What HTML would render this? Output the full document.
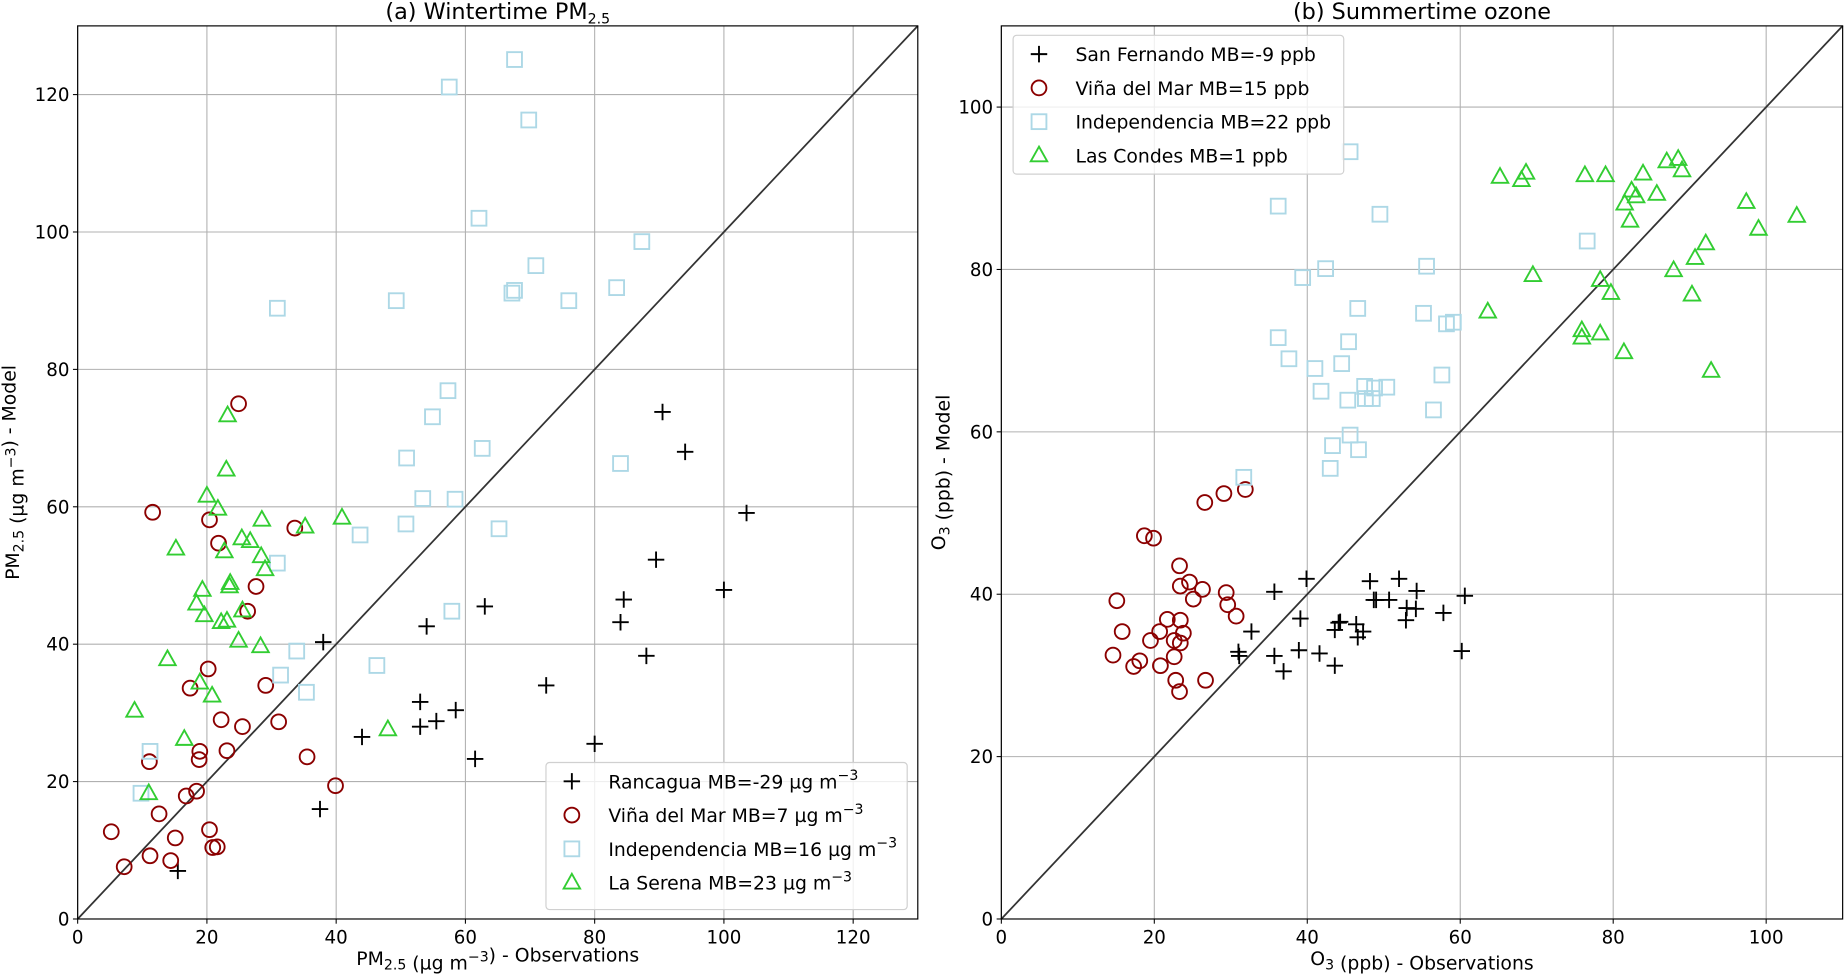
<!DOCTYPE html>
<html><head><meta charset="utf-8"><style>
html,body{margin:0;padding:0;background:#fff;}
svg{display:block;font-family:"DejaVu Sans","Liberation Sans",sans-serif;}
</style></head><body>
<svg id="chart" width="1845" height="977" viewBox="0 0 1568 830.3" preserveAspectRatio="none" xmlns="http://www.w3.org/2000/svg"></svg>
<script>
// ---------- Panel (a) data: wintertime PM2.5 ----------
const rancaguaObs = [15.5,37.5,38,44,53,53,54,55.5,58.5,61.5,63,72.5,80,84,84.5,88,89.5,90.5,94,100,103.5];
const rancaguaMod = [7,16,40.3,26.5,28,31.6,42.6,28.8,30.4,23.3,45.5,34,25.5,43.2,46.5,38.3,52.3,73.8,68,47.9,59.1];
const vinaAObs = [5.2,7.2,11.2,11.1,11.6,12.6,14.4,15.1,16.8,17.4,18.4,18.9,18.8,20.2,20.4,20.4,20.9,21.6,21.8,22.2,23.1,24.9,25.5,26.3,27.6,29.1,31.1,33.6,35.5,39.9];
const vinaAMod = [12.7,7.6,9.2,22.9,59.2,15.3,8.5,11.8,17.9,33.6,18.6,24.4,23.2,36.4,58.1,13.0,10.4,10.5,54.7,29.0,24.5,75.0,28.0,44.8,48.4,34.0,28.7,56.9,23.6,19.4];
const indepAObs = [9.8,11.2,30.9,30.9,31.4,33.9,35.4,43.7,46.3,49.3,50.9,50.8,53.4,54.9,57.3,57.5,57.9,58.4,62.1,62.6,65.2,67.2,67.6,67.6,69.8,70.9,76.0,83.4,84.0,87.3];
const indepAMod = [18.3,24.4,88.9,51.8,35.5,39.0,33.0,55.9,36.9,90.0,67.1,57.5,61.2,73.1,76.9,121.1,44.8,61.1,102.0,68.5,56.8,91.1,91.5,125.1,116.3,95.1,90.0,91.9,66.3,98.6];
const serenaObs = [8.8,11.0,13.9,15.2,16.5,18.4,18.9,19.3,19.6,20.0,20.8,21.7,22.2,22.7,23.1,23.0,23.2,23.5,23.6,24.9,25.4,25.5,26.7,28.3,28.4,28.5,29.0,35.2,40.9,48.0];
const serenaMod = [30.3,18.3,37.8,53.9,26.2,45.9,34.4,47.9,44.2,61.6,32.5,59.7,43.2,53.5,43.4,65.4,73.3,48.4,48.9,40.5,55.4,44.9,55.0,39.7,52.8,58.1,50.9,57.1,58.4,27.6];
const ticksA = [0,20,40,60,80,100,120];

// ---------- Panel (b) data: summertime ozone ----------
const sanferObs = [31.0,31.1,32.7,35.7,35.7,36.9,38.9,39.1,39.9,41.6,43.6,43.6,44.1,44.3,46.4,46.6,47.3,48.2,48.7,49.0,50.7,52.0,52.9,53.0,54.2,54.3,57.8,60.2,60.6];
const sanferMod = [32.9,32.4,35.4,40.3,32.4,30.5,33.1,37.0,41.9,32.7,35.6,31.2,36.5,36.6,36.3,34.7,35.4,41.6,39.3,39.3,39.3,41.9,36.8,38.3,38.2,40.4,37.7,33.0,39.8];
const vinaBObs = [14.6,15.1,15.8,17.3,18.1,18.7,19.5,19.9,20.7,20.8,21.7,22.6,22.6,22.8,23.3,23.3,23.4,23.4,23.4,23.8,24.6,25.1,26.3,26.6,26.7,29.1,29.4,29.6,30.7,31.9];
const vinaBMod = [32.5,39.2,35.4,31.1,31.8,47.2,34.3,46.9,35.4,31.2,36.9,34.3,32.3,29.4,28.0,43.5,36.8,41.0,34.0,35.2,41.5,39.4,40.6,51.3,29.4,52.4,40.2,38.7,37.3,52.9];
const indepBObs = [31.7,36.2,36.2,37.6,39.4,41.0,41.8,42.4,43.0,43.3,44.5,45.3,45.4,45.6,45.6,46.6,46.7,47.5,47.6,48.5,48.8,49.5,50.4,55.2,55.6,56.5,57.6,58.2,59.1,76.6];
const indepBMod = [54.4,87.8,71.6,69.0,79.0,67.8,65.0,80.1,55.5,58.3,68.4,63.9,71.1,94.5,59.6,75.2,57.8,65.6,64.1,64.1,65.4,86.8,65.5,74.6,80.4,62.7,67.0,73.3,73.5,83.5];
const condesObs = [63.6,65.2,68.0,68.6,69.5,75.9,75.9,76.3,78.3,78.3,79.0,79.7,81.4,81.5,82.2,82.4,83.0,83.9,85.7,87.0,87.9,88.5,89.0,90.7,90.3,92.1,92.8,97.4,99.0,104.0];
const condesMod = [74.8,91.4,91.0,91.9,79.3,72.5,71.6,91.6,72.1,78.7,91.6,77.1,69.8,88.1,86.0,89.7,89.0,91.8,89.3,93.3,79.9,93.6,92.2,81.4,76.9,83.2,67.5,88.3,85.0,86.6];
const ticksB = [0,20,40,60,80,100];

const NS = "http://www.w3.org/2000/svg";
const svg = document.getElementById('chart');
function mk(tag, attrs, parent){
  const e = document.createElementNS(NS, tag);
  for (const k in attrs) e.setAttribute(k, attrs[k]);
  (parent||svg).appendChild(e);
  return e;
}
function scale(d0,d1,r0,r1){ return v => r0 + (v-d0)/(d1-d0)*(r1-r0); }

function marker(g, type, cx, cy, color){
  let e;
  if (type==='plus'){
    e = mk('path',{d:`M${cx-7},${cy}H${cx+7}M${cx},${cy-7}V${cy+7}`,stroke:color,'stroke-width':1.6,fill:'none'},g);
  } else if (type==='circle'){
    e = mk('circle',{cx:cx,cy:cy,r:6.3,stroke:color,'stroke-width':1.6,fill:'none'},g);
  } else if (type==='square'){
    e = mk('rect',{x:cx-6.3,y:cy-6.3,width:12.6,height:12.6,stroke:color,'stroke-width':1.6,fill:'none'},g);
  } else {
    e = mk('path',{d:`M${cx},${cy-7.5}L${cx+7},${cy+5}L${cx-7},${cy+5}Z`,stroke:color,'stroke-width':1.6,fill:'none'},g);
  }
  return e;
}

function panel(cfg){
  const g = mk('g',{});
  
  
  const sx = scale(0,cfg.max,cfg.x0,cfg.x1);
  const sy = scale(0,cfg.max,cfg.y0,cfg.y1);
  cfg.ticks.forEach(t=>{
    const gx = mk('line',{x1:sx(t),x2:sx(t),y1:cfg.y0,y2:cfg.y1,stroke:'#b0b0b0','stroke-width':0.9},g);
    
    
    const gy = mk('line',{x1:cfg.x0,x2:cfg.x1,y1:sy(t),y2:sy(t),stroke:'#b0b0b0','stroke-width':0.9},g);
    
    
    const tx = mk('text',{x:sx(t),y:cfg.y0+21,'text-anchor':'middle','font-size':15.5,fill:'#000'},g);
    tx.textContent = t;
    
    
    mk('line',{x1:sx(t),x2:sx(t),y1:cfg.y0,y2:cfg.y0+4,stroke:'#000','stroke-width':0.9},g);
    const ty = mk('text',{x:cfg.x0-7,y:sy(t)+5.5,'text-anchor':'end','font-size':15.5,fill:'#000'},g);
    ty.textContent = t;
    
    
    mk('line',{x1:cfg.x0-4,x2:cfg.x0,y1:sy(t),y2:sy(t),stroke:'#000','stroke-width':0.9},g);
  });
  const diag = mk('line',{x1:sx(0),y1:sy(0),x2:sx(cfg.max),y2:sy(cfg.max),stroke:'#333','stroke-width':1.5},g);
  
  
  cfg.series.forEach(s=>{
    const sg = mk('g',{},g);
    
    
    s.xs.forEach((v,i)=>{
      const m = marker(sg, s.type, sx(v), sy(s.ys[i]), s.color);
      
      
    });
  });
  const fr = mk('rect',{x:cfg.x0,y:cfg.y1,width:cfg.x1-cfg.x0,height:cfg.y0-cfg.y1,fill:'none',stroke:'#000','stroke-width':1},g);
  
  
  const L = cfg.legend;
  const lg = mk('g',{},g);
  
  
  mk('rect',{x:L.x,y:L.y,width:L.w,height:L.h,rx:3,fill:'#fff','fill-opacity':0.8,stroke:'#d0d0d0','stroke-width':1},lg);
  cfg.series.forEach((s,i)=>{
    const cy = L.y+16+i*28.7;
    const le = mk('g',{},lg);
    
    
    marker(le, s.type, L.x+22, cy, s.color);
    const t = mk('text',{x:L.x+53,y:cy+6,'font-size':16,fill:'#000'},le);
    t.innerHTML = s.label;
  });
  const tt = mk('text',{x:(cfg.x0+cfg.x1)/2,y:16,'text-anchor':'middle','font-size':19,fill:'#000'},g);
  tt.innerHTML = cfg.title;
  
  
  const xl = mk('text',{x:(cfg.x0+cfg.x1)/2,y:820,'text-anchor':'middle','font-size':16,fill:'#000'},g);
  xl.innerHTML = cfg.xlabel;
  
  
  const ylx = cfg.ylabX, yly = (cfg.y0+cfg.y1)/2;
  const yl = mk('text',{x:ylx,y:yly,'text-anchor':'middle','font-size':16,fill:'#000',transform:`rotate(-90 ${ylx} ${yly})`},g);
  yl.innerHTML = cfg.ylabel;
  
  
}

const sub = s => `<tspan font-size="12" dy="4">${s}</tspan><tspan dy="-4"></tspan>`;
const sup = s => `<tspan font-size="12" dy="-7">${s}</tspan><tspan dy="7"></tspan>`;
const ugm = `µg m${sup('−3')}`;

panel({
  name:'panel-a-wintertime-pm25', x0:66, x1:780, y0:781, y1:22, max:130, ticks:ticksA,
  title:`(a) Wintertime PM${sub('2.5')}`,
  xlabel:`PM${sub('2.5')} (${ugm}) - Observations`,
  ylabel:`PM${sub('2.5')} (${ugm}) - Model`, ylabX:16,
  legend:{x:464,y:648,w:307,h:125},
  series:[
    {id:'rancagua',type:'plus',color:'#000',xs:rancaguaObs,ys:rancaguaMod,label:`Rancagua MB=-29 ${ugm}`},
    {id:'vina-del-mar-a',type:'circle',color:'#8b0000',xs:vinaAObs,ys:vinaAMod,label:`Viña del Mar MB=7 ${ugm}`},
    {id:'independencia-a',type:'square',color:'#add8e6',xs:indepAObs,ys:indepAMod,label:`Independencia MB=16 ${ugm}`},
    {id:'la-serena',type:'tri',color:'#32cd32',xs:serenaObs,ys:serenaMod,label:`La Serena MB=23 ${ugm}`}
  ]
});
panel({
  name:'panel-b-summertime-ozone', x0:851, x1:1566, y0:781, y1:22, max:110, ticks:ticksB,
  title:`(b) Summertime ozone`,
  xlabel:`O${sub('3')} (ppb) - Observations`,
  ylabel:`O${sub('3')} (ppb) - Model`, ylabX:803,
  legend:{x:861,y:30,w:281,h:118},
  series:[
    {id:'san-fernando',type:'plus',color:'#000',xs:sanferObs,ys:sanferMod,label:`San Fernando MB=-9 ppb`},
    {id:'vina-del-mar-b',type:'circle',color:'#8b0000',xs:vinaBObs,ys:vinaBMod,label:`Viña del Mar MB=15 ppb`},
    {id:'independencia-b',type:'square',color:'#add8e6',xs:indepBObs,ys:indepBMod,label:`Independencia MB=22 ppb`},
    {id:'las-condes',type:'tri',color:'#32cd32',xs:condesObs,ys:condesMod,label:`Las Condes MB=1 ppb`}
  ]
});
</script>
</body></html>
